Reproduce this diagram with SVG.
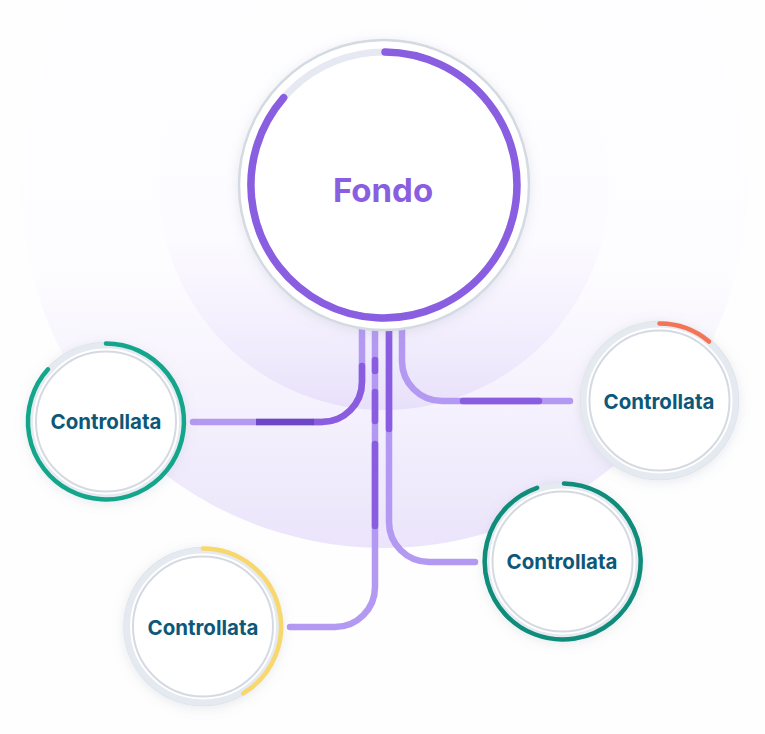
<svg xmlns="http://www.w3.org/2000/svg" width="765" height="734" viewBox="0 0 765 734">
  <defs>
    <linearGradient id="gOuter" gradientUnits="userSpaceOnUse" x1="0" y1="-178" x2="0" y2="548">
      <stop offset="0" stop-color="#ffffff"/>
      <stop offset="0.62" stop-color="#fdfcff"/>
      <stop offset="0.82" stop-color="#f4f0fd"/>
      <stop offset="1" stop-color="#ebe4fb"/>
    </linearGradient>
    <linearGradient id="gInner" gradientUnits="userSpaceOnUse" x1="0" y1="-40" x2="0" y2="410">
      <stop offset="0" stop-color="#ffffff"/>
      <stop offset="0.62" stop-color="#fcfbff"/>
      <stop offset="0.86" stop-color="#f1ecfd"/>
      <stop offset="1" stop-color="#e8e0fa"/>
    </linearGradient>
    <filter id="shadow" x="-30%" y="-30%" width="160%" height="160%">
      <feDropShadow dx="0" dy="2" stdDeviation="6" flood-color="#8a93a8" flood-opacity="0.2"/>
    </filter>
    <style>
      .track{fill:none;stroke:#e5e9f0;stroke-width:6}
      .outer{fill:#ffffff;stroke:#dfe4ea;stroke-width:1.5}
      .inner{fill:#ffffff;stroke:#d5d9e2;stroke-width:2}
      .arc{fill:none;stroke-width:4.5;stroke-linecap:round}
      .lbl{font-family:Inter,"Liberation Sans",sans-serif;font-weight:700;font-size:20.5px;fill:#0d5878;text-anchor:middle}
      .ln{fill:none;stroke:#b399f1;stroke-width:6.5;stroke-linecap:round}
      .dk{fill:none;stroke:#8a5ce0;stroke-width:6.5;stroke-linecap:round}
      .dk2{fill:none;stroke:#6d48c6;stroke-width:6.5;stroke-linecap:butt}
    </style>
  </defs>
  <rect width="765" height="734" fill="#fefefe"/>
  <g id="background">
    <circle cx="384" cy="185" r="363" fill="url(#gOuter)"/>
    <circle cx="384" cy="185" r="225" fill="url(#gInner)"/>
  </g>
  <g id="connectors">
    <path class="ln" d="M362,320 V382 A40,40 0 0 1 322,422 H193"/>
    <path class="dk" d="M362,366 V382 A40,40 0 0 1 322,422 H314"/>
    <path class="dk2" d="M314,422 H256"/>
    <path class="ln" d="M375,320 V587 A40,40 0 0 1 335,627 H290"/>
    <path class="dk" d="M375,360 V371"/>
    <path class="dk" d="M375,392 V421"/>
    <path class="dk" d="M375,444 V526"/>
    <path class="ln" d="M389,320 V522 A40,40 0 0 0 429,562 H475"/>
    <path class="dk" d="M389,320 V429"/>
    <path class="ln" d="M402,320 V361 A40,40 0 0 0 442,401 H570"/>
    <path class="dk" d="M463,401 H539"/>
  </g>
  <g id="fondo">
    <circle cx="384" cy="185" r="145" fill="#ffffff" stroke="#d4dae2" stroke-width="2.5" filter="url(#shadow)"/>
    <circle cx="384" cy="185" r="133" fill="none" stroke="#e6e9f1" stroke-width="7"/>
    <path d="M385,52 A133,133 0 1 1 283.6,97.7" fill="none" stroke="#8a5ee0" stroke-width="7.5" stroke-linecap="round"/>
    <text x="383" y="202" font-family="Inter,'Liberation Sans',sans-serif" font-weight="700" font-size="33" fill="#8a5ee0" text-anchor="middle">Fondo</text>
  </g>
  <g id="node-left">
    <circle class="outer" cx="106" cy="421.5" r="79" filter="url(#shadow)"/>
    <circle class="track" cx="106" cy="421.5" r="76"/>
    <circle class="inner" cx="106" cy="421.5" r="70"/>
    <path class="arc" stroke="#13a68a" d="M106,343.5 A78,78 0 1 1 48,369.3"/>
    <text class="lbl" x="106" y="429">Controllata</text>
  </g>
  <g id="node-right">
    <circle class="outer" cx="659.5" cy="400.5" r="79" filter="url(#shadow)"/>
    <circle class="track" cx="659.5" cy="400.5" r="76"/>
    <circle class="inner" cx="659.5" cy="400.5" r="70"/>
    <path class="arc" stroke="#f47455" d="M659.5,323.5 A77,77 0 0 1 709,341.5"/>
    <text class="lbl" x="659" y="409">Controllata</text>
  </g>
  <g id="node-bottom-right">
    <circle class="outer" cx="562.5" cy="561.5" r="79" filter="url(#shadow)"/>
    <circle class="track" cx="562.5" cy="561.5" r="76"/>
    <circle class="inner" cx="562.5" cy="561.5" r="70"/>
    <path class="arc" stroke="#0f8c7a" d="M564,483.5 A78,78 0 1 1 537.1,487.8"/>
    <text class="lbl" x="562" y="569">Controllata</text>
  </g>
  <g id="node-bottom-left">
    <circle class="outer" cx="203" cy="626.5" r="79" filter="url(#shadow)"/>
    <circle class="track" cx="203" cy="626.5" r="76"/>
    <circle class="inner" cx="203" cy="626.5" r="70"/>
    <path class="arc" stroke="#f8d86c" d="M203,548.5 A78,78 0 0 1 243.2,693.4"/>
    <text class="lbl" x="203" y="635">Controllata</text>
  </g>
</svg>
